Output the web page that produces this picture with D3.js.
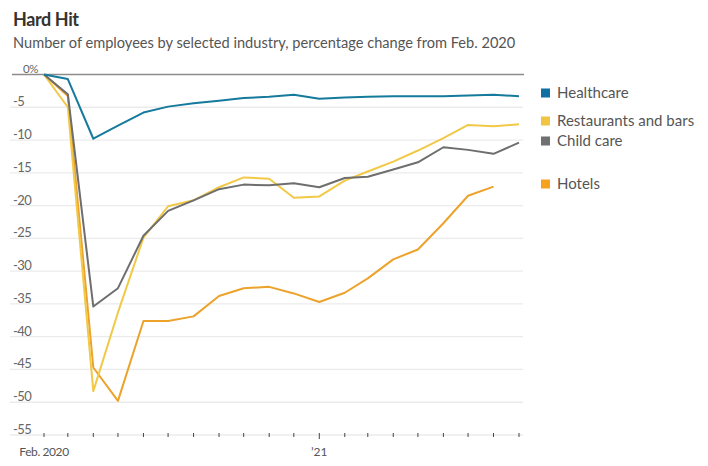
<!DOCTYPE html>
<html><head><meta charset="utf-8">
<script src="https://cdn.jsdelivr.net/npm/d3@7"></script>
<style>
body{margin:0;background:#fff;}
text{font-family:"Lato","Noto Sans",sans-serif;}
</style></head>
<body><svg id="c" width="708" height="466"></svg>
<script>
// Months from Feb 2020 to Sep 2021
const months = ["2020-02","2020-03","2020-04","2020-05","2020-06","2020-07","2020-08","2020-09","2020-10","2020-11","2020-12","2021-01","2021-02","2021-03","2021-04","2021-05","2021-06","2021-07","2021-08","2021-09"];
const healthcare = [0,-0.7,-9.8,-7.8,-5.8,-4.9,-4.4,-4.0,-3.6,-3.4,-3.1,-3.7,-3.5,-3.4,-3.3,-3.3,-3.3,-3.2,-3.1,-3.3];
const restaurants = [0,-5.0,-48.3,-36.3,-24.9,-20.1,-19.2,-17.2,-15.7,-15.9,-18.8,-18.6,-16.2,-14.8,-13.3,-11.6,-9.7,-7.7,-7.9,-7.6];
const childCare = [0,-3.0,-35.4,-32.6,-24.6,-20.8,-19.2,-17.5,-16.8,-16.9,-16.6,-17.2,-15.8,-15.6,-14.5,-13.4,-11.1,-11.5,-12.1,-10.4];
const hotels = [0,-3.3,-44.7,-49.8,-37.6,-37.6,-36.9,-33.8,-32.6,-32.4,-33.4,-34.7,-33.3,-31.1,-28.2,-26.7,-22.7,-18.5,-17.1];
const yTicks = [0,-5,-10,-15,-20,-25,-30,-35,-40,-45,-50,-55];
const seriesNames = ["Healthcare","Restaurants and bars","Child care","Hotels"];
const seriesColors = ["#157a9c","#f1c947","#6e6e6e","#eda22c"];
const legendColors = ["#0e6fa3","#f2c443","#707070","#f5a31f"];

const svg = d3.select("#c");
const parse = d3.timeParse("%Y-%m");
const dates = months.map(parse);

const x = d3.scaleTime().domain([dates[0], dates[dates.length-1]]).range([44,519]);
const y = d3.scaleLinear().domain([0,-55]).range([74.5,435]);

// Title
svg.append("text").attr("x",13).attr("y",26).attr("font-size",18).attr("font-weight",700)
  .attr("fill","#333").attr("letter-spacing","-0.4").text("Hard Hit");
svg.append("text").attr("x",13).attr("y",48).attr("font-size",14.6).attr("fill","#555")
  .text("Number of employees by selected industry, percentage change from Feb. 2020");

// gridlines
const grid = svg.append("g");
yTicks.forEach(t=>{
  if(t===0) return;
  grid.append("line").attr("x1",10).attr("x2",523).attr("y1",y(t)).attr("y2",y(t))
    .attr("stroke","#ebebeb").attr("stroke-width",1.3);
  grid.append("text").attr("x",13).attr("y",y(t)-1).attr("font-size",13).attr("fill","#666")
    .attr("letter-spacing","-0.5").text(t);
});
grid.append("text").attr("x",23).attr("y",y(0)-2).attr("font-size",11.5).attr("fill","#666")
  .attr("letter-spacing","-0.5").text("0%");

// x axis ticks
const xa = svg.append("g");
dates.forEach(d=>{
  const major = d.getMonth()===0;
  xa.append("line").attr("x1",x(d)).attr("x2",x(d)).attr("y1",y(-55)-2).attr("y2",y(-55)+(major?4:2))
    .attr("stroke","#444").attr("stroke-width",1);
});
xa.append("text").attr("x",x(dates[0])).attr("y",456).attr("text-anchor","middle")
  .attr("font-size",12).attr("fill","#555").attr("letter-spacing","-0.4").text("Feb. 2020");
xa.append("text").attr("x",x(parse("2021-01"))).attr("y",456).attr("text-anchor","middle")
  .attr("font-size",12).attr("fill","#555").text("\u201921");

// zero line
svg.append("line").attr("x1",12).attr("x2",524).attr("y1",y(0)).attr("y2",y(0))
  .attr("stroke","#8c8c8c").attr("stroke-width",1.6);

const line = d3.line().x((v,i)=>x(dates[i])).y(v=>y(v));
const data = [healthcare, restaurants, childCare, hotels];
[3,1,2,0].forEach(i=>{
  svg.append("path").attr("d",line(data[i])).attr("fill","none")
    .attr("stroke",seriesColors[i]).attr("stroke-width",2).attr("stroke-linejoin","round");
});

// legend
const legendY = [93,121,141,184];
seriesNames.forEach((n,i)=>{
  svg.append("rect").attr("x",541).attr("y",legendY[i]-4.5).attr("width",9).attr("height",9)
    .attr("fill",legendColors[i]);
  svg.append("text").attr("x",557).attr("y",legendY[i]+5).attr("font-size",15)
    .attr("fill","#555").text(n);
});
</script></body></html>
